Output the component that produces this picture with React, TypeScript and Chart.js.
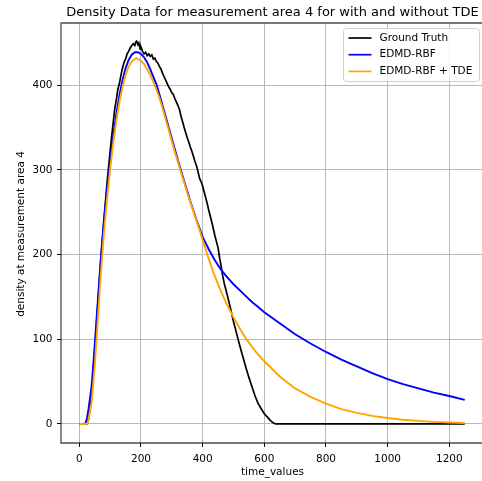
import React, { useEffect, useRef } from "react";
import { Chart, registerables } from "chart.js";

Chart.register(...registerables);

const chartTitle = "Density Data for measurement area 4 for with and without TDE";
const xAxisTitle = "time_values";
const yAxisTitle = "density at measurement area 4";

const xTickValues = [0, 200, 400, 600, 800, 1000, 1200];
const yTickValues = [0, 100, 200, 300, 400];

const seriesLabels = ["Ground Truth", "EDMD-RBF", "EDMD-RBF + TDE"];
const seriesColors = ["#000000", "#0000ff", "#ffa500"];

const gtTime = [
  0, 25, 30, 40, 50, 60, 70, 80, 90, 100, 105, 110, 115, 120, 125, 130, 135, 140, 145, 150, 155, 160, 165, 170, 175,
  180, 183, 186, 190, 193, 197, 200, 205, 210, 215, 220, 225, 230, 235, 240, 245, 250, 255, 260, 265, 270, 275, 280,
  285, 290, 295, 300, 305, 310, 315, 320, 325, 330, 335, 340, 345, 350, 355, 360, 365, 370, 375, 380, 385, 390, 395,
  400, 405, 410, 415, 420, 425, 430, 435, 440, 445, 450, 455, 460, 465, 470, 475, 480, 490, 500, 510, 520, 530, 540,
  550, 560, 570, 580, 590, 600, 610, 620, 630, 636, 1250,
];
const gtValues = [
  0, 0, 6, 32, 86, 142, 196, 242, 285, 322, 340, 356, 372, 383, 395, 402, 412, 420, 427, 431, 437, 440, 444, 447, 449,
  447, 451, 452, 448, 450, 443, 445, 440, 437, 439, 435, 437, 434, 436, 431, 432, 428, 426, 422, 419, 414, 410, 406,
  402, 398, 395, 391, 389, 384, 380, 376, 371, 363, 357, 350, 344, 338, 333, 327, 322, 316, 310, 305, 298, 290, 286,
  281, 274, 267, 260, 252, 245, 238, 230, 222, 215, 208, 196, 186, 175, 166, 159, 152, 137, 121, 107, 93, 80, 67,
  55, 44, 33, 24, 18, 12, 8, 4, 1, 0, 0,
];

const rbfTime = [
  0, 10, 20, 25, 30, 40, 50, 60, 70, 80, 90, 100, 110, 120, 130, 140, 150, 160, 170, 180, 190, 200, 210, 220, 230,
  240, 250, 260, 270, 280, 290, 300, 310, 320, 330, 340, 350, 360, 370, 380, 390, 400, 420, 440, 460, 480, 500, 520,
  540, 560, 580, 600, 650, 700, 750, 800, 850, 900, 950, 1000, 1050, 1100, 1150, 1200, 1250,
];
const rbfValues = [
  0, 0, 0.5, 7, 18, 45, 93, 145, 196, 240, 277, 310, 340, 366, 388, 406, 420, 430, 436, 439, 439, 437, 433, 427, 419,
  410, 401, 389, 376, 363, 350, 337, 324, 311, 299, 287, 275, 263, 252, 241, 231, 221, 206, 193, 182, 173, 165, 158,
  151, 144, 138, 132, 119, 106, 95, 85, 76, 68, 60, 53, 47, 42, 37, 33, 28.5,
];

const tdeTime = [
  0, 10, 20, 26, 30, 40, 50, 60, 70, 80, 90, 100, 110, 120, 130, 140, 150, 160, 170, 180, 185, 190, 200, 210, 220,
  230, 240, 250, 260, 270, 280, 290, 300, 310, 320, 330, 340, 350, 360, 370, 380, 390, 400, 415, 430, 440, 460, 480,
  500, 520, 540, 560, 580, 600, 650, 700, 750, 800, 850, 900, 950, 1000, 1050, 1100, 1150, 1200, 1250,
];
const tdeValues = [
  0, 0, 0, 0.5, 5, 26, 68, 123, 178, 226, 266, 301, 332, 358, 380, 398, 412, 422, 428, 431, 432, 431, 429, 425, 419,
  412, 404, 395, 385, 373, 360, 347, 334, 321, 309, 297, 285, 273, 262, 251, 240, 229, 217, 200, 184, 174, 156, 140,
  126, 113, 101, 91, 82, 74, 56, 42, 32, 24, 17.5, 13, 9.5, 7, 5, 3.6, 2.5, 1.7, 1.2,
];

const X_MIN = -59.4;
const X_MAX = 1306;
const Y_MIN = -22.5;
const Y_MAX = 473.5;

const FONT = "'DejaVu Sans', sans-serif";
const SPINE = "rgba(0,0,0,0.7)";
const GRID = "#b8b8b8";

const toPoints = (xs: number[], ys: number[]) => xs.map((x, i) => ({ x, y: ys[i] }));

const decorPlugin = {
  id: "decor",
  afterDatasetsDraw(chart: any) {
    const { ctx, chartArea: a } = chart;
    ctx.save();
    // spines
    ctx.strokeStyle = SPINE;
    ctx.lineWidth = 1.3;
    ctx.beginPath();
    ctx.moveTo(a.right, a.top);
    ctx.lineTo(a.left, a.top);
    ctx.lineTo(a.left, a.bottom);
    ctx.lineTo(a.right, a.bottom);
    ctx.stroke();

    // legend
    const lx = a.right - 138.5;
    const ly = a.top + 5.5;
    const lw = 136;
    const lh = 53;
    ctx.beginPath();
    (ctx as any).roundRect(lx, ly, lw, lh, 3);
    ctx.fillStyle = "rgba(255,255,255,0.8)";
    ctx.fill();
    ctx.strokeStyle = "#d0d0d0";
    ctx.lineWidth = 1;
    ctx.stroke();
    ctx.font = `10.5px ${FONT}`;
    ctx.textBaseline = "middle";
    ctx.textAlign = "left";
    seriesLabels.forEach((label, i) => {
      const y = ly + 9.5 + i * 16.7;
      ctx.strokeStyle = seriesColors[i];
      ctx.lineWidth = 1.7;
      ctx.beginPath();
      ctx.moveTo(lx + 5, y);
      ctx.lineTo(lx + 28, y);
      ctx.stroke();
      ctx.fillStyle = "#000";
      ctx.fillText(label, lx + 36, y);
    });

    // title
    ctx.fillStyle = "#000";
    ctx.textAlign = "center";
    ctx.font = `13px ${FONT}`;
    ctx.fillText(chartTitle, 272.5, 12.5);

    // axis titles
    ctx.font = `10.5px ${FONT}`;
    ctx.fillText(xAxisTitle, 272.5, 472);
    ctx.translate(21.7, 234);
    ctx.rotate(-Math.PI / 2);
    ctx.fillText(yAxisTitle, 0, 0);
    ctx.restore();
  },
};

export default function App() {
  const ref = useRef<HTMLCanvasElement>(null);
  useEffect(() => {
    const canvas = ref.current;
    if (!canvas) return;
    const chart = new Chart(canvas, {
      type: "line",
      data: {
        datasets: [
          {
            label: seriesLabels[0],
            data: toPoints(gtTime, gtValues),
            borderColor: seriesColors[0],
            borderWidth: 1.7,
            pointRadius: 0,
            tension: 0,
            order: 3,
          },
          {
            label: seriesLabels[1],
            data: toPoints(rbfTime, rbfValues),
            borderColor: seriesColors[1],
            borderWidth: 1.9,
            pointRadius: 0,
            tension: 0,
            order: 2,
          },
          {
            label: seriesLabels[2],
            data: toPoints(tdeTime, tdeValues),
            borderColor: seriesColors[2],
            borderWidth: 1.9,
            pointRadius: 0,
            tension: 0,
            order: 1,
          },
        ],
      },
      options: {
        animation: false,
        responsive: false,
        devicePixelRatio: 1,
        layout: { padding: { left: 0, right: 0, top: 23, bottom: 0 } },
        plugins: {
          legend: { display: false },
          title: { display: false },
          tooltip: { enabled: false },
        },
        scales: {
          x: {
            type: "linear",
            min: X_MIN,
            max: X_MAX,
            afterBuildTicks: (axis: any) => {
              axis.ticks = xTickValues.map((v) => ({ value: v }));
            },
            afterFit: (axis: any) => {
              axis.height = 38;
            },
            grid: { color: GRID, lineWidth: 1, tickLength: 4, tickColor: "#000", tickWidth: 1 },
            border: { display: false },
            ticks: {
              autoSkip: false,
              maxRotation: 0,
              padding: 5.5,
              color: "#000",
              font: { family: FONT, size: 10.5 },
              callback: (v: any) => String(v),
            },
          },
          y: {
            type: "linear",
            min: Y_MIN,
            max: Y_MAX,
            afterBuildTicks: (axis: any) => {
              axis.ticks = yTickValues.map((v) => ({ value: v }));
            },
            afterFit: (axis: any) => {
              axis.width = 61;
            },
            grid: { color: GRID, lineWidth: 1, tickLength: 4, tickColor: "#000", tickWidth: 1 },
            border: { display: false },
            ticks: {
              autoSkip: false,
              padding: 4.5,
              color: "#000",
              font: { family: FONT, size: 10.5 },
              callback: (v: any) => String(v),
            },
          },
        },
      },
      plugins: [decorPlugin],
    } as any);
    return () => chart.destroy();
  }, []);
  return (
    <div style={{ position: "fixed", left: 0, top: 0, width: 482, height: 481, background: "#fff" }}>
      <canvas ref={ref} width={482} height={481} style={{ display: "block", width: 482, height: 481 }} />
    </div>
  );
}
